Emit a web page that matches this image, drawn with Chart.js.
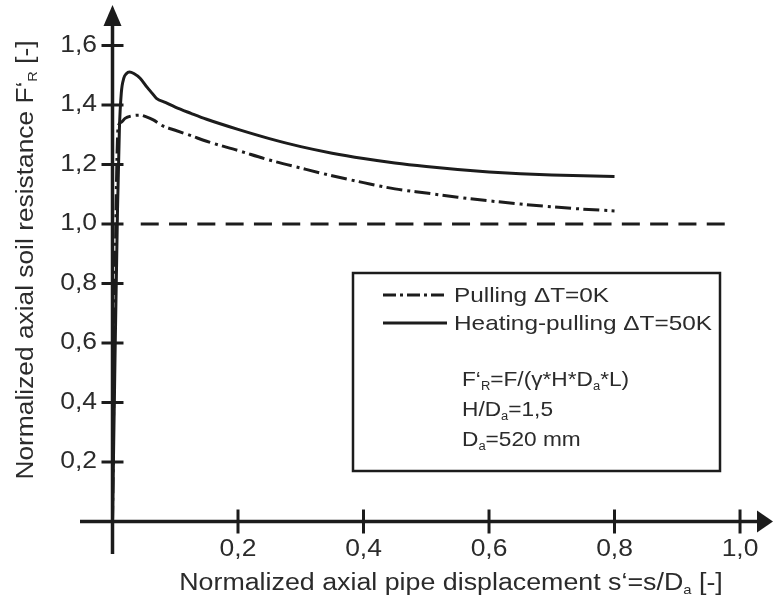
<!DOCTYPE html>
<html>
<head>
<meta charset="utf-8">
<script src="https://cdn.jsdelivr.net/npm/chart.js@4"></script>
<style>
  body { margin: 0; background: #fff; }
  #wrap { width: 773px; height: 600px; }
</style>
</head>
<body>
<div id="wrap"><canvas id="chart" width="773" height="600"></canvas></div>
<script>
// values
const xTicks = [0.2, 0.4, 0.6, 0.8, 1.0];
const yTicks = [0.2, 0.4, 0.6, 0.8, 1.0, 1.2, 1.4, 1.6];

// heating-pulling dT=50K (solid)
const sHeat = [0, 0.004, 0.008, 0.011, 0.014, 0.018, 0.022, 0.027, 0.034, 0.044, 0.055, 0.063, 0.07, 0.085, 0.1, 0.125, 0.15, 0.2, 0.25, 0.3, 0.35, 0.4, 0.45, 0.5, 0.55, 0.6, 0.65, 0.7, 0.75, 0.8];
const fHeat = [0, 0.55, 1.05, 1.32, 1.44, 1.49, 1.505, 1.511, 1.506, 1.49, 1.46, 1.44, 1.4225, 1.408, 1.393, 1.372, 1.352, 1.318, 1.287, 1.26, 1.238, 1.22, 1.205, 1.193, 1.183, 1.175, 1.169, 1.165, 1.162, 1.16];

// pulling dT=0K (dash-dot)
const sPull = [0, 0.003, 0.006, 0.009, 0.014, 0.02, 0.03, 0.044, 0.054, 0.065, 0.08, 0.1, 0.125, 0.15, 0.2, 0.25, 0.3, 0.35, 0.4, 0.45, 0.5, 0.55, 0.6, 0.65, 0.7, 0.75, 0.8];
const fPull = [0, 0.6, 1.1, 1.327, 1.342, 1.355, 1.363, 1.366, 1.36, 1.35, 1.33, 1.315, 1.297, 1.278, 1.247, 1.215, 1.188, 1.162, 1.139, 1.118, 1.104, 1.09, 1.078, 1.067, 1.058, 1.05, 1.044];

// reference line F'R = 1
const sRef = [0.045, 0.992];
const fRef = [1, 1];

const INK = '#1c1c1c';
const TXT = '#2b2b2b';
const FONT = '"Liberation Sans", Arial, sans-serif';

const toPts = (xs, ys) => xs.map((x, i) => ({x: x, y: ys[i]}));

const pullDash = [16, 5, 3, 4.3];

// text in the reference is a bit wider than Liberation Sans, so stretch it (sx)
const drawText = (ctx, t, x, y, size, sx, align) => {
    ctx.save();
    ctx.font = size + 'px ' + FONT;
    const w = ctx.measureText(t).width * sx;
    let left = x;
    if (align === 'right') left = x - w;
    if (align === 'center') left = x - w / 2;
    ctx.translate(left, y);
    ctx.scale(sx, 1);
    ctx.textAlign = 'left';
    ctx.fillText(t, 0, 0);
    ctx.restore();
}

// parts = [[text, isSub], ...]
const richWidth = (ctx, parts, size, subSize, sx) => {
    let w = 0;
    for (const [t, sub] of parts) {
        ctx.font = (sub ? subSize : size) + 'px ' + FONT;
        w += ctx.measureText(t).width * sx;
    }
    return w;
}
const drawRich = (ctx, parts, x, y, size, subSize, subDrop, sx) => {
    let cx = x;
    for (const [t, sub] of parts) {
        drawText(ctx, t, cx, sub ? y + subDrop : y, sub ? subSize : size, sx, 'left');
        ctx.font = (sub ? subSize : size) + 'px ' + FONT;
        cx += ctx.measureText(t).width * sx;
    }
}

const axesPlugin = {
    id: 'axesPlugin',
    beforeDatasetsDraw(chart) {
        const {ctx, scales} = chart;
        const xs = scales.x, ys = scales.y;
        const x0 = xs.getPixelForValue(0);
        const y0 = ys.getPixelForValue(0);
        ctx.save();
        ctx.strokeStyle = INK;
        ctx.fillStyle = INK;
        ctx.lineWidth = 3.5;
        // x axis
        ctx.beginPath();
        ctx.moveTo(80, y0);
        ctx.lineTo(760, y0);
        ctx.stroke();
        ctx.beginPath();
        ctx.moveTo(773, y0);
        ctx.lineTo(757, y0 - 11);
        ctx.lineTo(757, y0 + 11);
        ctx.closePath();
        ctx.fill();
        // y axis
        ctx.beginPath();
        ctx.moveTo(x0, 554);
        ctx.lineTo(x0, 22);
        ctx.stroke();
        ctx.beginPath();
        ctx.moveTo(x0, 5);
        ctx.lineTo(x0 - 9, 26);
        ctx.lineTo(x0 + 9, 26);
        ctx.closePath();
        ctx.fill();
        // tick marks
        ctx.lineWidth = 3;
        for (const v of xTicks) {
            const px = xs.getPixelForValue(v);
            ctx.beginPath();
            ctx.moveTo(px, y0 - 12);
            ctx.lineTo(px, y0 + 12);
            ctx.stroke();
        }
        for (const v of yTicks) {
            const py = ys.getPixelForValue(v);
            ctx.beginPath();
            ctx.moveTo(x0 - 11, py);
            ctx.lineTo(x0 + 11, py);
            ctx.stroke();
        }
        // tick labels
        ctx.fillStyle = TXT;
        ctx.textBaseline = 'middle';
        for (const v of yTicks) {
            drawText(ctx, v.toFixed(1).replace('.', ','), 97, ys.getPixelForValue(v), 23, 1.15, 'right');
        }
        for (const v of xTicks) {
            drawText(ctx, v.toFixed(1).replace('.', ','), xs.getPixelForValue(v), 550, 23, 1.15, 'center');
        }
        // axis titles
        ctx.textBaseline = 'alphabetic';
        const xTitle = [['Normalized axial pipe displacement s\u2018=s/D', false], ['a', true], [' [-]', false]];
        const xw = richWidth(ctx, xTitle, 23.5, 13, 1.14);
        drawRich(ctx, xTitle, 451 - xw / 2, 590, 23.5, 13, 4, 1.14);

        const yTitle = [['Normalized axial soil resistance F\u2018', false], ['R', true], [' [-]', false]];
        const yw = richWidth(ctx, yTitle, 23.5, 13, 1.12);
        ctx.translate(33, 260);
        ctx.rotate(-Math.PI / 2);
        drawRich(ctx, yTitle, -yw / 2, 0, 23.5, 13, 4, 1.12);
        ctx.restore();
    },
    afterDatasetsDraw(chart) {
        const {ctx} = chart;
        ctx.save();
        // legend frame
        ctx.strokeStyle = INK;
        ctx.lineWidth = 2.5;
        ctx.strokeRect(353, 273, 367, 198);
        // legend samples
        ctx.lineWidth = 3;
        ctx.setLineDash([13, 4, 3, 4]);
        ctx.beginPath();
        ctx.moveTo(383, 295);
        ctx.lineTo(447, 295);
        ctx.stroke();
        ctx.setLineDash([]);
        ctx.beginPath();
        ctx.moveTo(383, 323);
        ctx.lineTo(447, 323);
        ctx.stroke();
        ctx.fillStyle = TXT;
        ctx.textBaseline = 'middle';
        drawText(ctx, 'Pulling \u0394T=0K', 454, 296, 21, 1.16, 'left');
        drawText(ctx, 'Heating-pulling \u0394T=50K', 454, 324, 21, 1.16, 'left');
        // formula block
        ctx.textBaseline = 'alphabetic';
        drawRich(ctx, [['F\u2018', false], ['R', true], ['=F/(\u03b3*H*D', false], ['a', true], ['*L)', false]], 462, 386, 21, 12, 4, 1.08);
        drawRich(ctx, [['H/D', false], ['a', true], ['=1,5', false]], 462, 416, 21, 12, 4, 1.08);
        drawRich(ctx, [['D', false], ['a', true], ['=520 mm', false]], 462, 446, 21, 12, 4, 1.08);
        ctx.restore();
    }
};

new Chart(document.getElementById('chart'), {
    type: 'scatter',
    data: {
        datasets: [{
            label: 'Reference',
            data: toPts(sRef, fRef),
            showLine: true,
            borderColor: INK,
            borderWidth: 3,
            borderDash: [18, 10.3],
            pointRadius: 0
        }, {
            label: 'Pulling \u0394T=0K',
            data: toPts(sPull, fPull),
            showLine: true,
            borderColor: INK,
            borderWidth: 3,
            borderDash: pullDash,
            cubicInterpolationMode: 'monotone',
            pointRadius: 0
        }, {
            label: 'Heating-pulling \u0394T=50K',
            data: toPts(sHeat, fHeat),
            showLine: true,
            borderColor: INK,
            borderWidth: 3,
            cubicInterpolationMode: 'monotone',
            pointRadius: 0
        }]
    },
    options: {
        responsive: false,
        animation: false,
        layout: { padding: { left: 81.125, right: 1.6, top: 15.75, bottom: 48.75 } },
        scales: {
            x: { type: 'linear', min: -0.05, max: 1.05, display: false },
            y: { type: 'linear', min: -0.1, max: 1.7, display: false }
        },
        plugins: {
            legend: { display: false },
            tooltip: { enabled: false }
        }
    },
    plugins: [axesPlugin]
});
</script>
</body>
</html>
